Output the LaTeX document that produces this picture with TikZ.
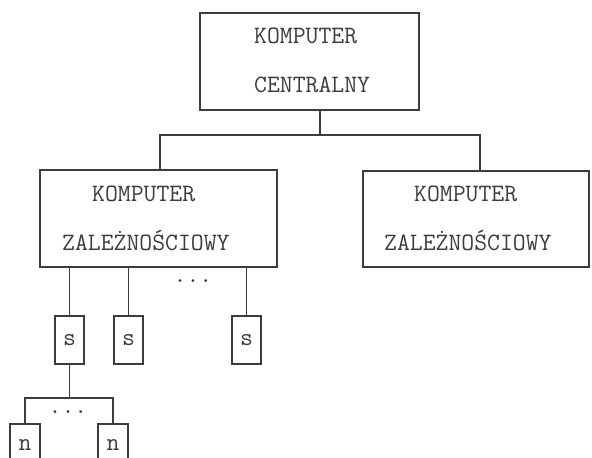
\documentclass[tikz,border=0pt]{standalone}
\usepackage{fontspec}
\definecolor{ink}{HTML}{3C3C3C}
\newcommand{\reffont}{\ttfamily\fontsize{25}{25}\selectfont\addfontfeature{FakeStretch=1.1,FakeBold=1.5}}
\begin{document}
\begin{tikzpicture}[x=1pt,y=-1pt,
  box/.style={draw=ink, line width=1.3pt, inner sep=0pt, outer sep=0pt},
  wire/.style={draw=ink, line width=1.3pt},
  lbl/.style={text=ink, inner sep=0pt, anchor=base west, font=\reffont},
  small/.style={text=ink, inner sep=0pt, font=\reffont}]
\useasboundingbox (0,0) rectangle (592,458);
\fill[white] (0,0) rectangle (592,458);
\clip (0,0) rectangle (592,458);
% main boxes
\node[box, minimum width=219pt, minimum height=97pt, anchor=north west] (top) at (200,13) {};
\node[box, minimum width=237pt, minimum height=97pt, anchor=north west] (lbox) at (40,170) {};
\node[box, minimum width=226pt, minimum height=96pt, anchor=north west] (rbox) at (363,171) {};
% texts
\node[lbl] (t1) at (254,43) {KOMPUTER};
\node[lbl] (t2) at (254,92) {CENTRALNY};
\node[lbl] (l1) at (92,201) {KOMPUTER};
\node[lbl] (l2) at (62,250) {ZALEŻNOŚCIOWY};
\node[lbl] (r1) at (414,201) {KOMPUTER};
\node[lbl] (r2) at (384,250) {ZALEŻNOŚCIOWY};
% s boxes
\node[box, minimum width=29pt, minimum height=48pt, anchor=north] (s1) at (69.5,316) {};
\node[box, minimum width=29pt, minimum height=48pt, anchor=north] (s2) at (128.5,316) {};
\node[box, minimum width=29pt, minimum height=48pt, anchor=north] (s3) at (246.5,316) {};
\node[small] (s1t) at (s1.center) {s};
\node[small] (s2t) at (s2.center) {s};
\node[small] (s3t) at (s3.center) {s};
% n boxes
\node[box, minimum width=30pt, minimum height=48pt, anchor=north] (n1) at (25,424) {};
\node[box, minimum width=30pt, minimum height=48pt, anchor=north] (n2) at (113,424) {};
\node[small] (n1t) at (25,445) {n};
\node[small] (n2t) at (113,445) {n};
% connectors
\coordinate (bus) at (320,135);
\draw[wire] (top.south -| bus) -- (bus);
\draw[wire] (lbox.north -| 160,0) |- (bus) -| (rbox.north -| 480,0);
\draw[wire] (s1.north) -- (s1.north |- lbox.south);
\draw[wire] (s2.north) -- (s2.north |- lbox.south);
\draw[wire] (s3.north) -- (s3.north |- lbox.south);
\coordinate (nbus) at (69.5,398);
\draw[wire] (s1.south) -- (nbus);
\draw[wire] (n1.north) |- (nbus) -| (n2.north);
% dots
\node[small] (d1) at (193,281) {...};
\node[small] (d2) at (68,412) {...};
\end{tikzpicture}
\end{document}
